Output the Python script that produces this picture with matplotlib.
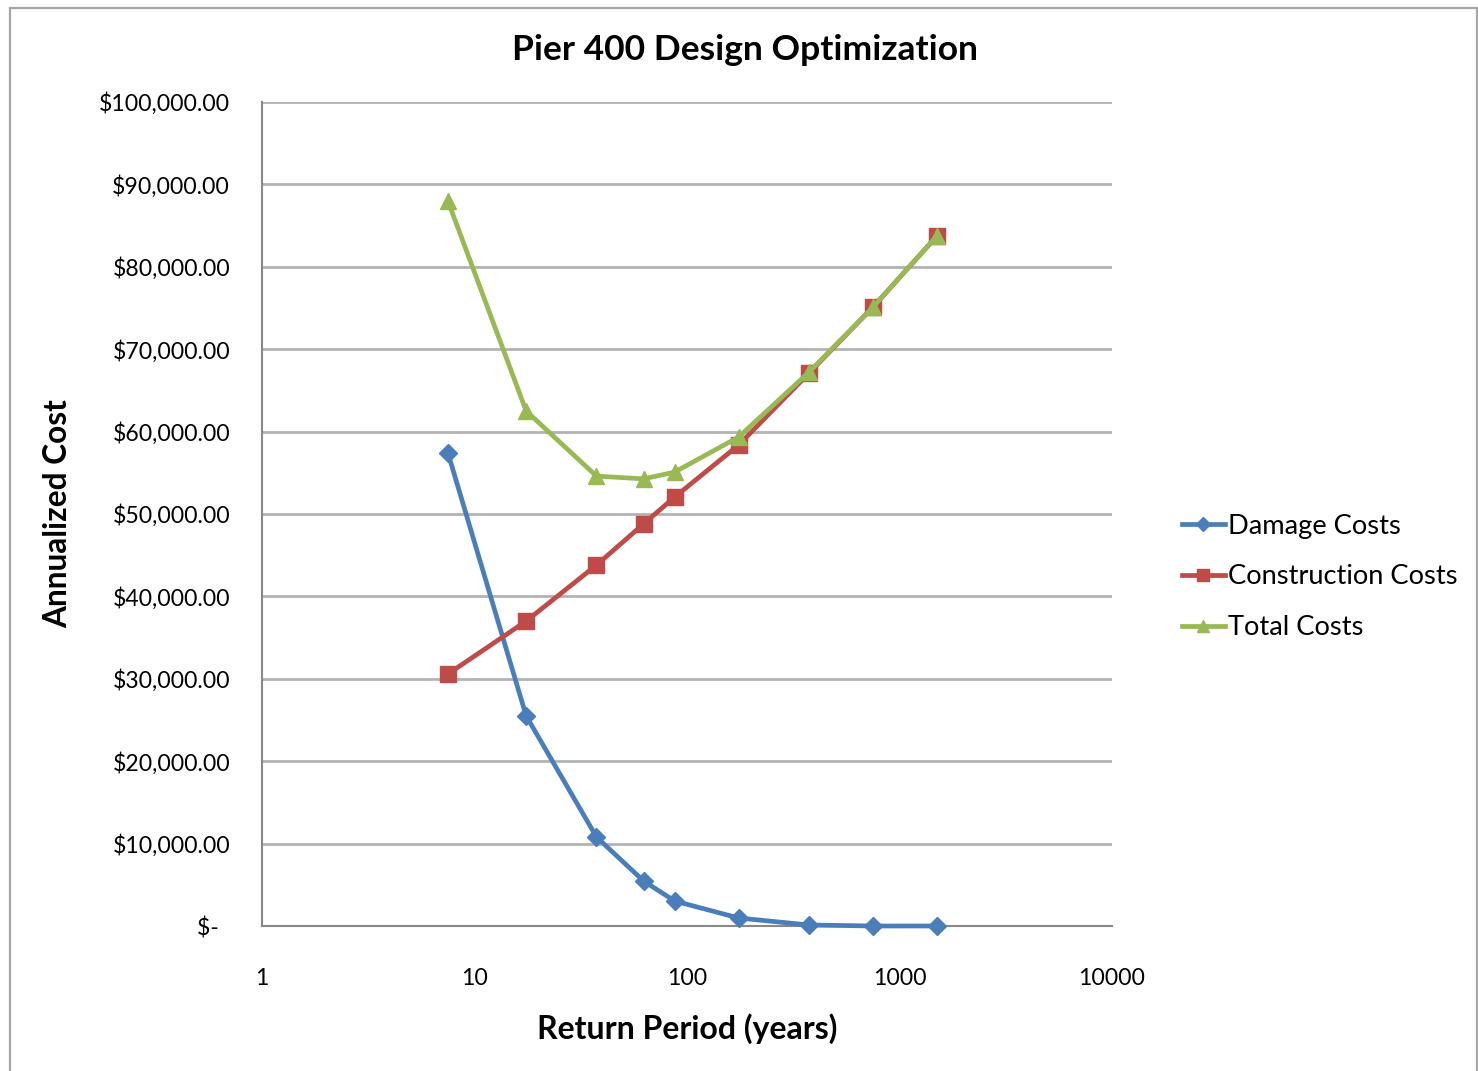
import matplotlib
matplotlib.use("Agg")
import matplotlib.pyplot as plt
from matplotlib.ticker import FuncFormatter, FixedLocator, NullLocator
from matplotlib.patches import Rectangle

plt.rcParams['font.family'] = ['Lato', 'DejaVu Sans']

# Return periods (years) and annualized costs (USD)
return_period = [7.5, 17.5, 37.5, 62.5, 87.5, 175, 375, 750, 1500]
damage_costs = [57400, 25500, 10800, 5460, 3030, 970, 120, 0, 0]
construction_costs = [30580, 37000, 43800, 48800, 52060, 58370, 67100, 75100, 83740]
total_costs = [d + c for d, c in zip(damage_costs, construction_costs)]

series_names = ["Damage Costs", "Construction Costs", "Total Costs"]
y_ticks = [0, 10000, 20000, 30000, 40000, 50000, 60000, 70000, 80000, 90000, 100000]
x_ticks = [1, 10, 100, 1000, 10000]

W, H = 1478, 1071
fig = plt.figure(figsize=(W / 100, H / 100), dpi=100)
fig.patch.set_facecolor("white")

# outer chart frame
fig.patches.append(Rectangle((10 / W, -0.01), (1477 - 10) / W, 1 - 8 / H + 0.01,
                             transform=fig.transFigure, fill=False,
                             edgecolor="#a6a6a6", linewidth=1.6))

ax = fig.add_axes([262 / W, (H - 926) / H, 850 / W, 824 / H])
ax.set_xscale("log")
ax.set_xlim(1, 10000)
ax.set_ylim(0, 100000)

ax.xaxis.set_major_locator(FixedLocator(x_ticks))
ax.xaxis.set_minor_locator(NullLocator())
ax.xaxis.set_major_formatter(FuncFormatter(lambda v, p: f"{int(round(v))}"))
ax.yaxis.set_major_locator(FixedLocator(y_ticks))


def money(v, p):
    if v == 0:
        return "$-  "
    return f"${v:,.2f}"


ax.yaxis.set_major_formatter(FuncFormatter(money))
ax.tick_params(axis="both", length=0, labelsize=16.6, colors="#000000")
ax.tick_params(axis="y", pad=23)
ax.tick_params(axis="x", pad=30)

ax.grid(axis="y", color="#b3b3b3", linewidth=2)
ax.set_axisbelow(True)
for s in ("top", "right"):
    ax.spines[s].set_visible(False)
for s in ("left", "bottom"):
    ax.spines[s].set_color("#888888")
    ax.spines[s].set_linewidth(1.5)

ax.plot(return_period, damage_costs, color="#4a7ebb", linewidth=3.4,
        marker="D", markersize=9, label=series_names[0], clip_on=False, zorder=3)
ax.plot(return_period, construction_costs, color="#be4b48", linewidth=3.4,
        marker="s", markersize=11, label=series_names[1], clip_on=False, zorder=4)
ax.plot(return_period, total_costs, color="#98b954", linewidth=3.4,
        marker="^", markersize=11, label=series_names[2], clip_on=False, zorder=5)

fig.text(745 / W, 1 - 50 / H, "Pier 400 Design Optimization", ha="center",
         va="center", fontsize=25.5, fontweight="bold")
fig.text(687 / W, 1 - 1029 / H, "Return Period (years)", ha="center",
         va="center", fontsize=23, fontweight="bold")
fig.text(58 / W, 1 - 514 / H, "Annualized Cost", ha="center", va="center",
         rotation=90, fontsize=22.8, fontweight="bold")

leg = fig.legend(loc="center left", bbox_to_anchor=(1157 / W, 1 - 577 / H),
                 bbox_transform=fig.transFigure, frameon=False, fontsize=19.6,
                 handlelength=1.6, handletextpad=0.1, labelspacing=0.94,
                 markerscale=0.75)

fig.savefig("out.png", dpi=100, facecolor="white")
